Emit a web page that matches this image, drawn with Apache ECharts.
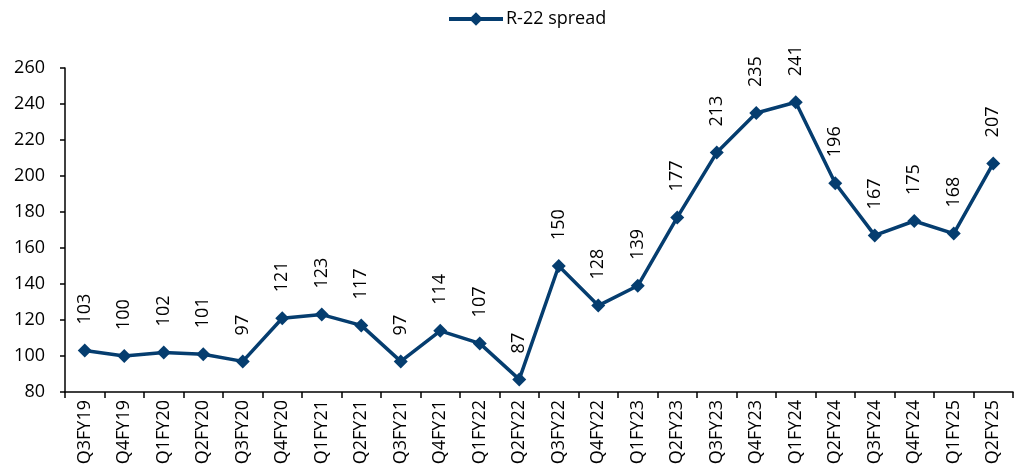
<!DOCTYPE html>
<html lang="en">
<head>
    <meta charset="UTF-8">
    <title>R-22 spread</title>
    <style>
        * { padding: 0; margin: 0; }
        html, body { height: 100%; width: 100%; background: #fff; }
        #chart { width: 1024px; height: 474px; }
    </style>
</head>
<body>
    <div id="chart"></div>
    <script src="https://cdn.jsdelivr.net/npm/echarts@6/dist/echarts.min.js"></script>
    <script type="text/javascript">
        const quarters = ['Q3FY19', 'Q4FY19', 'Q1FY20', 'Q2FY20', 'Q3FY20', 'Q4FY20', 'Q1FY21', 'Q2FY21',
            'Q3FY21', 'Q4FY21', 'Q1FY22', 'Q2FY22', 'Q3FY22', 'Q4FY22', 'Q1FY23', 'Q2FY23',
            'Q3FY23', 'Q4FY23', 'Q1FY24', 'Q2FY24', 'Q3FY24', 'Q4FY24', 'Q1FY25', 'Q2FY25'];
        const spread = [103, 100, 102, 101, 97, 121, 123, 117, 97, 114, 107, 87,
            150, 128, 139, 177, 213, 235, 241, 196, 167, 175, 168, 207];

        const navy = '#053D6F';
        const font = 'Open Sans';

        const myChart = echarts.init(document.getElementById('chart'));
        const option = {
            animation: false,
            legend: {
                top: 5,
                left: 442,
                itemWidth: 54,
                itemHeight: 17,
                itemGap: 10,
                lineStyle: { width: 4 },
                textStyle: { fontFamily: font, fontSize: 18, color: '#000', padding: [0, 0, 0, -2] },
                data: ['R-22 spread']
            },
            grid: { left: 65, right: 11, top: 68, bottom: 82 },
            xAxis: {
                type: 'category',
                data: quarters,
                boundaryGap: true,
                axisLine: { lineStyle: { color: '#000', width: 1.5 } },
                axisTick: { show: true, length: 6, lineStyle: { color: '#000', width: 1.5 } },
                axisLabel: {
                    rotate: 90,
                    interval: 0,
                    margin: 8,
                    color: '#000',
                    fontFamily: font,
                    fontSize: 18
                }
            },
            yAxis: {
                type: 'value',
                min: 80,
                max: 260,
                interval: 20,
                axisLine: { show: true, lineStyle: { color: '#000', width: 1.5 } },
                axisTick: { show: true, length: 5, lineStyle: { color: '#000', width: 1.5 } },
                splitLine: { show: false },
                axisLabel: { color: '#000', fontFamily: font, fontSize: 18, margin: 20 }
            },
            series: [{
                name: 'R-22 spread',
                type: 'line',
                data: spread,
                symbol: 'diamond',
                symbolSize: 14,
                itemStyle: { color: navy },
                lineStyle: { color: navy, width: 3.5 },
                label: {
                    show: true,
                    position: 'top',
                    distance: 19,
                    rotate: 90,
                    align: 'left',
                    verticalAlign: 'middle',
                    color: '#000',
                    fontFamily: font,
                    fontSize: 18
                }
            }]
        };
        myChart.setOption(option);
    </script>
</body>
</html>
